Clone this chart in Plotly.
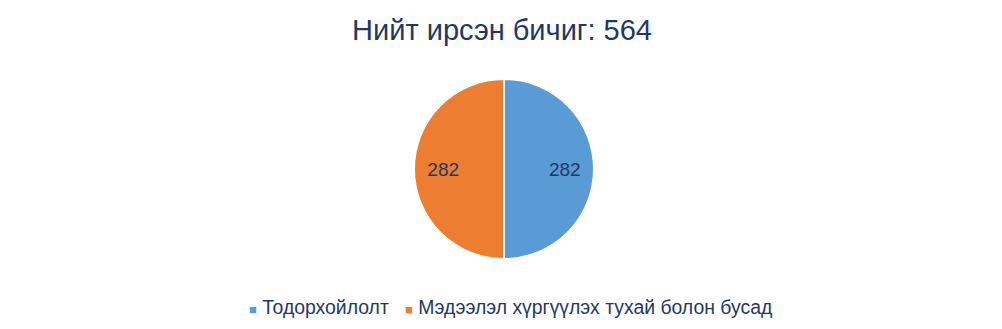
import plotly.graph_objects as go

labels = ["Тодорхойлолт", "Мэдээлэл хүргүүлэх тухай болон бусад"]
values = [282, 282]
colors = ["#5B9BD5", "#ED7D31"]
title_text = "Нийт ирсэн бичиг: 564"

W, H = 1002, 329
FONT = "Liberation Sans, Arial"
NAVY = "#1F3864"
PAD = "\u00a0" * 6

fig = go.Figure(go.Pie(
    labels=labels,
    values=values,
    sort=False,
    direction="clockwise",
    rotation=0,
    marker=dict(colors=colors, line=dict(color="white", width=2)),
    texttemplate=[PAD + "%{value}", "%{value}" + PAD],
    textposition="inside",
    insidetextorientation="horizontal",
    textfont=dict(family=FONT, size=19, color=NAVY),
    domain=dict(x=[414 / W, 594 / W], y=[(H - 259) / H, (H - 79) / H]),
    hoverinfo="label+value",
    showlegend=False,
))

# legend drawn as a single text line built from the labels/colors
parts = []
for lab, col in zip(labels, colors):
    parts.append(f"<span style='color:{col};font-size:13px'>■</span> {lab}")
legend_text = "\u00a0\u00a0\u00a0".join(parts)

fig.add_annotation(
    text=legend_text, xref="paper", yref="paper",
    x=510 / W, y=(H - 307) / H, xanchor="center", yanchor="middle",
    showarrow=False, font=dict(family=FONT, size=19.4, color=NAVY),
)

fig.update_layout(
    width=W, height=H,
    margin=dict(l=0, r=0, t=0, b=0),
    paper_bgcolor="white",
    plot_bgcolor="white",
    title=dict(text=title_text, x=502 / W, xanchor="center", y=(H - 30) / H, yanchor="middle",
               font=dict(family=FONT, size=29, color=NAVY)),
    showlegend=False,
    font=dict(family=FONT),
)

fig.write_html("out.html")
